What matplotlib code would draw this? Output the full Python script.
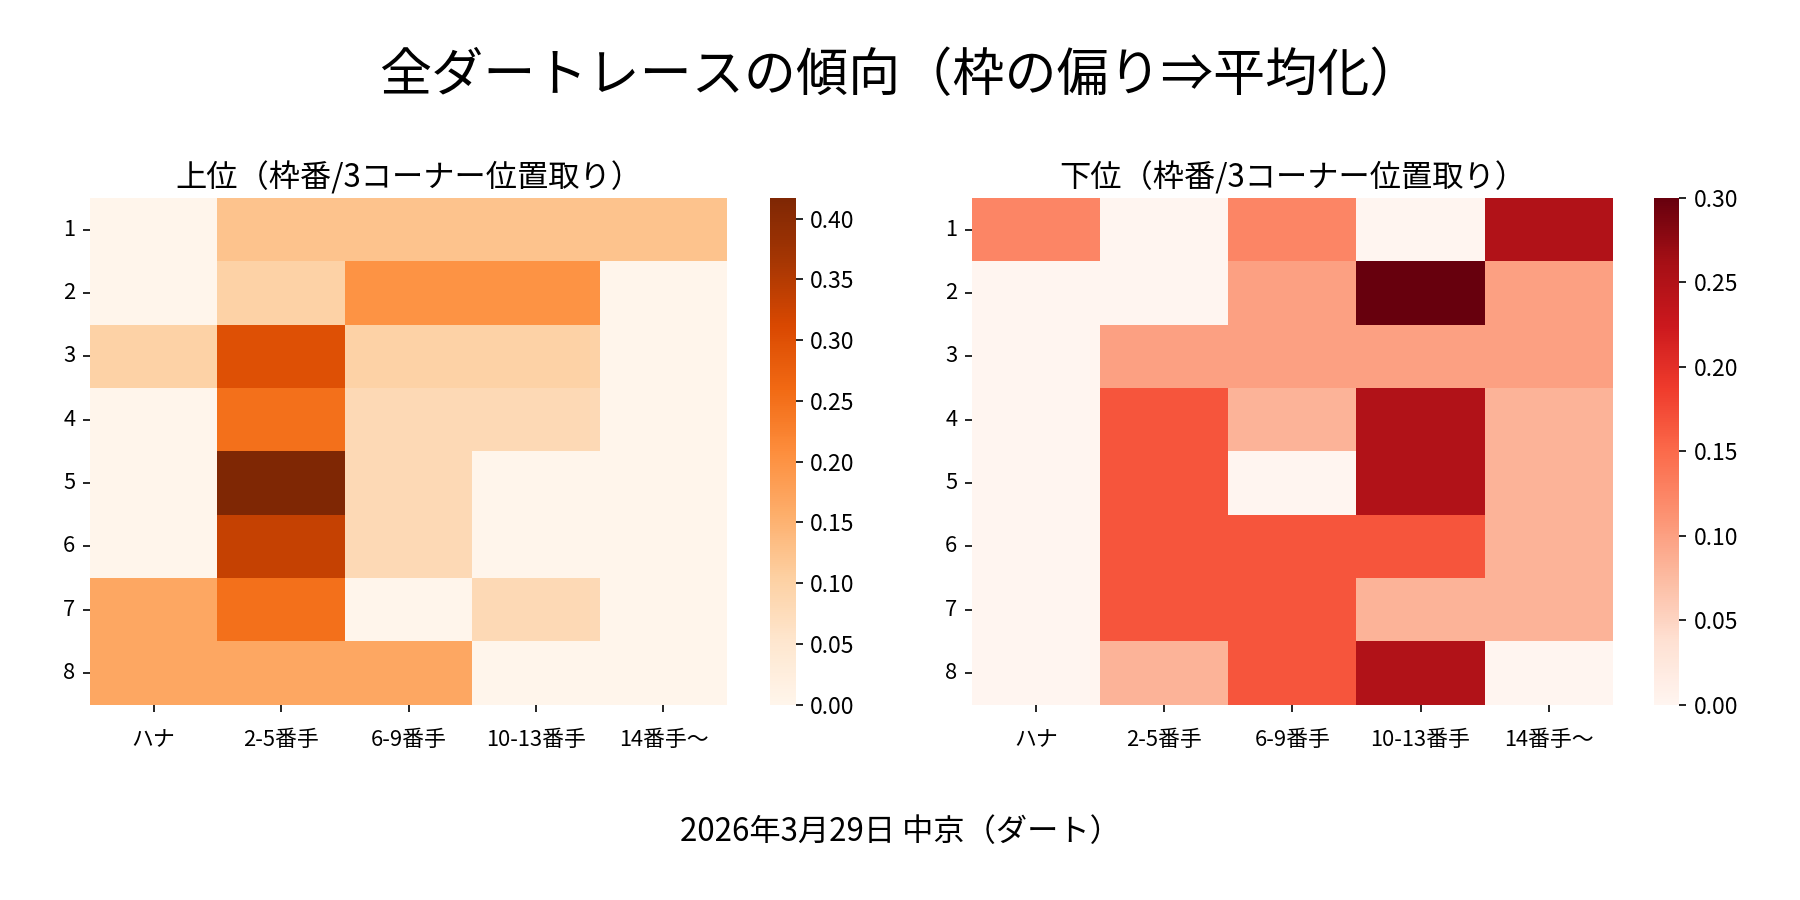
import numpy as np
import pandas as pd
import matplotlib
matplotlib.use('Agg')
import matplotlib.pyplot as plt
import seaborn as sns

plt.rcParams['font.family'] = ['Noto Sans CJK JP', 'DejaVu Sans']

waku = ['1', '2', '3', '4', '5', '6', '7', '8']
positions = ['ハナ', '2-5番手', '6-9番手', '10-13番手', '14番手～']

# upper finishers (rows = 枠番, cols = 3コーナー位置取り)
top_vals = [
    [0.000, 0.125, 0.125, 0.125, 0.125],
    [0.000, 0.100, 0.200, 0.200, 0.000],
    [0.100, 0.300, 0.100, 0.100, 0.000],
    [0.000, 0.250, 0.083, 0.083, 0.000],
    [0.000, 0.417, 0.083, 0.000, 0.000],
    [0.000, 0.333, 0.083, 0.000, 0.000],
    [0.167, 0.250, 0.000, 0.083, 0.000],
    [0.167, 0.167, 0.167, 0.000, 0.000],
]

# lower finishers
bottom_vals = [
    [0.125, 0.000, 0.125, 0.000, 0.250],
    [0.000, 0.000, 0.100, 0.300, 0.100],
    [0.000, 0.100, 0.100, 0.100, 0.100],
    [0.000, 0.167, 0.083, 0.250, 0.083],
    [0.000, 0.167, 0.000, 0.250, 0.083],
    [0.000, 0.167, 0.167, 0.167, 0.083],
    [0.000, 0.167, 0.167, 0.083, 0.083],
    [0.000, 0.083, 0.167, 0.250, 0.000],
]

df_top = pd.DataFrame(top_vals, index=waku, columns=positions)
df_bot = pd.DataFrame(bottom_vals, index=waku, columns=positions)

fig = plt.figure(figsize=(12, 6), dpi=150)
ax1 = fig.add_axes([0.050, 0.217, 0.354, 0.563])
cax1 = fig.add_axes([0.428, 0.217, 0.014, 0.563])
ax2 = fig.add_axes([0.540, 0.217, 0.356, 0.563])
cax2 = fig.add_axes([0.919, 0.217, 0.014, 0.563])

sns.heatmap(df_top, cmap='Oranges', ax=ax1, cbar_ax=cax1)
sns.heatmap(df_bot, cmap='Reds', ax=ax2, cbar_ax=cax2)

for ax, ttl in [(ax1, '上位（枠番/3コーナー位置取り）'), (ax2, '下位（枠番/3コーナー位置取り）')]:
    ax.set_title(ttl, fontsize=15, pad=5)
    ax.tick_params(axis='both', labelsize=10.5)
    ax.tick_params(axis='x', pad=8)
    ax.set_yticklabels(ax.get_yticklabels(), rotation=0)
    ax.set_xticklabels(ax.get_xticklabels(), rotation=0)
    ax.set_xlabel('')
    ax.set_ylabel('')

for cax in [cax1, cax2]:
    cax.tick_params(labelsize=11)

fig.suptitle('全ダートレースの傾向（枠の偏り⇒平均化）', fontsize=25, y=0.945)
fig.text(0.5, 0.075, '2026年3月29日 中京（ダート）', ha='center', va='center', fontsize=15)

plt.savefig('out.png')
